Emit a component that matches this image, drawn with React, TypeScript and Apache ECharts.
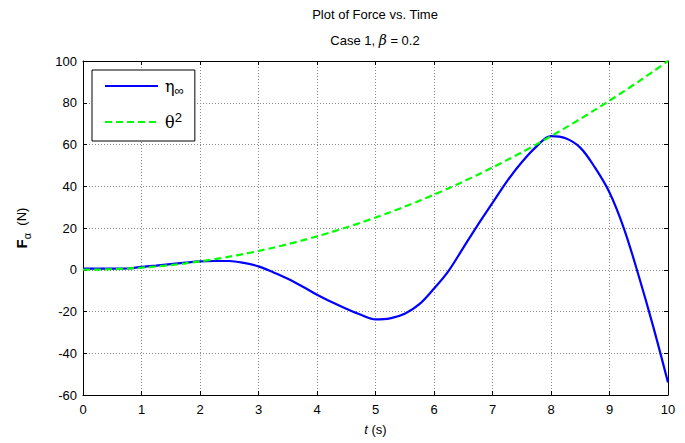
import React, { useEffect, useRef } from "react";
import * as echarts from "echarts";

const times = [0, 0.25, 0.5, 0.75, 1, 1.25, 1.5, 1.75, 2, 2.25, 2.5, 2.75, 3, 3.25, 3.5, 3.75, 4, 4.25, 4.5, 4.75, 5, 5.25, 5.5, 5.75, 6, 6.25, 6.5, 6.75, 7, 7.25, 7.5, 7.75, 8, 8.25, 8.5, 8.75, 9, 9.25, 9.5, 9.75, 10];
const etaValues = [0.5, 0.5, 0.5, 0.6, 1.4, 2.0, 2.7, 3.4, 4.0, 4.2, 4.2, 3.3, 1.6, -1.2, -4.3, -8.0, -12, -15.5, -18.7, -21.6, -23.8, -23.3, -21.1, -16.5, -9, -0.5, 10.5, 21.5, 32, 42.5, 51.5, 59, 64, 63, 58.5, 49, 37, 19.5, -3, -27.5, -54];
const thetaSqValues = [0, 0.06, 0.25, 0.56, 1, 1.56, 2.25, 3.06, 4, 5.06, 6.25, 7.56, 9, 10.56, 12.25, 14.06, 16, 18.06, 20.25, 22.56, 25, 27.56, 30.25, 33.06, 36, 39.06, 42.25, 45.56, 49, 52.56, 56.25, 60.06, 64, 68.06, 72.25, 76.56, 81, 85.56, 90.25, 95.06, 100];
const seriesNames = ["eta", "theta"];
const xTicks = { min: 0, max: 10, interval: 1 };
const yTicks = { min: -60, max: 100, interval: 20 };

const FONT = "Liberation Sans, Arial, sans-serif";

export default function App() {
  const ref = useRef<HTMLDivElement>(null);
  useEffect(() => {
    if (!ref.current) return;
    const chart = echarts.init(ref.current, undefined, { renderer: "svg" });
    const axisCommon = {
      axisLine: { show: true, onZero: false, lineStyle: { color: "#000", width: 1 } },
      axisTick: { show: true, inside: true, length: 4, lineStyle: { color: "#000" } },
    };
    chart.setOption({
      animation: false,
      backgroundColor: "#fff",
      textStyle: { fontFamily: FONT },
      title: [
        {
          text: "Plot of Force vs. Time",
          left: 375,
          top: 8,
          textAlign: "center",
          padding: 0,
          textStyle: { fontSize: 13, fontWeight: "normal", color: "#000", fontFamily: FONT },
        },
        {
          text: "{a|Case 1, }{i|β}{a| = 0.2}",
          left: 375,
          top: 33,
          textAlign: "center",
          padding: 0,
          textStyle: {
            fontSize: 13,
            fontWeight: "normal",
            color: "#000",
            fontFamily: FONT,
            rich: {
              a: { fontSize: 13, color: "#000", fontFamily: FONT },
              i: { fontSize: 14, color: "#000", fontStyle: "italic", fontFamily: "DejaVu Serif, serif" },
            },
          },
        },
      ],
      grid: { left: 83, right: 17, top: 61, bottom: 48, containLabel: false },
      legend: {
        show: true,
        orient: "vertical",
        left: 92,
        top: 70,
        backgroundColor: "#fff",
        borderColor: "#000",
        borderWidth: 1,
        borderRadius: 0,
        padding: [8, 11, 11, 12],
        itemWidth: 53,
        itemHeight: 14,
        itemGap: 14,
        itemStyle: { opacity: 0 },
        data: seriesNames,
        formatter: (name: string) =>
          name === "eta" ? "{g|η}{sub|∞}" : "{g|θ}{sup|2}",
        textStyle: {
          color: "#000",
          padding: [0, 0, 0, 2],
          rich: {
            g: { fontSize: 16, lineHeight: 22, color: "#000", fontFamily: "DejaVu Serif, serif", verticalAlign: "middle" },
            sub: { fontSize: 13, lineHeight: 12, color: "#000", fontFamily: FONT, verticalAlign: "bottom" },
            sup: { fontSize: 13, lineHeight: 13, color: "#000", fontFamily: FONT, verticalAlign: "top" },
          },
        },
      },
      xAxis: [
        {
          type: "value",
          position: "bottom",
          min: xTicks.min,
          max: xTicks.max,
          interval: xTicks.interval,
          ...axisCommon,
          axisLabel: { color: "#000", fontSize: 13, margin: 8, fontFamily: FONT },
          splitLine: { show: true, lineStyle: { color: "#8a8a8a", type: [1, 2], width: 1 } },
          name: "{i|t}{a| (s)}",
          nameLocation: "middle",
          nameGap: 28,
          nameTextStyle: {
            color: "#000",
            rich: {
              i: { fontSize: 13, fontStyle: "italic", color: "#000", fontFamily: FONT },
              a: { fontSize: 13, color: "#000", fontFamily: FONT },
            },
          },
        },
        {
          type: "value",
          position: "top",
          min: xTicks.min,
          max: xTicks.max,
          interval: xTicks.interval,
          ...axisCommon,
          axisLabel: { show: false },
          splitLine: { show: false },
        },
      ],
      yAxis: [
        {
          type: "value",
          position: "left",
          min: yTicks.min,
          max: yTicks.max,
          interval: yTicks.interval,
          ...axisCommon,
          axisLabel: { color: "#000", fontSize: 13, margin: 6, fontFamily: FONT },
          splitLine: { show: true, lineStyle: { color: "#8a8a8a", type: [1, 2], width: 1 } },
          name: "{b|F}{sub|α}{a|  (N)}",
          nameLocation: "middle",
          nameRotate: 90,
          nameGap: 51,
          nameTextStyle: {
            color: "#000",
            rich: {
              b: { fontSize: 15, fontWeight: "bold", lineHeight: 22, color: "#000", fontFamily: FONT, verticalAlign: "middle" },
              sub: { fontSize: 11, lineHeight: 11, color: "#000", fontFamily: FONT, verticalAlign: "bottom" },
              a: { fontSize: 13, lineHeight: 22, color: "#000", fontFamily: FONT, verticalAlign: "middle" },
            },
          },
        },
        {
          type: "value",
          position: "right",
          min: yTicks.min,
          max: yTicks.max,
          interval: yTicks.interval,
          ...axisCommon,
          axisLabel: { show: false },
          splitLine: { show: false },
        },
      ],
      series: [
        {
          name: seriesNames[0],
          type: "line",
          xAxisIndex: 0,
          yAxisIndex: 0,
          data: times.map((t, i) => [t, etaValues[i]]),
          smooth: 0.35,
          symbol: "none",
          lineStyle: { color: "#0000ff", width: 2.2 },
          itemStyle: { color: "#0000ff" },
          z: 3,
        },
        {
          name: seriesNames[1],
          type: "line",
          xAxisIndex: 0,
          yAxisIndex: 0,
          data: times.map((t, i) => [t, thetaSqValues[i]]),
          smooth: 0.3,
          symbol: "none",
          lineStyle: { color: "#00ff00", width: 2.2, type: [7, 4] },
          itemStyle: { color: "#00ff00" },
          z: 4,
        },
      ],
    });
    return () => chart.dispose();
  }, []);
  return (
    <div
      ref={ref}
      style={{ position: "absolute", left: 0, top: 0, width: 685, height: 443 }}
    />
  );
}
